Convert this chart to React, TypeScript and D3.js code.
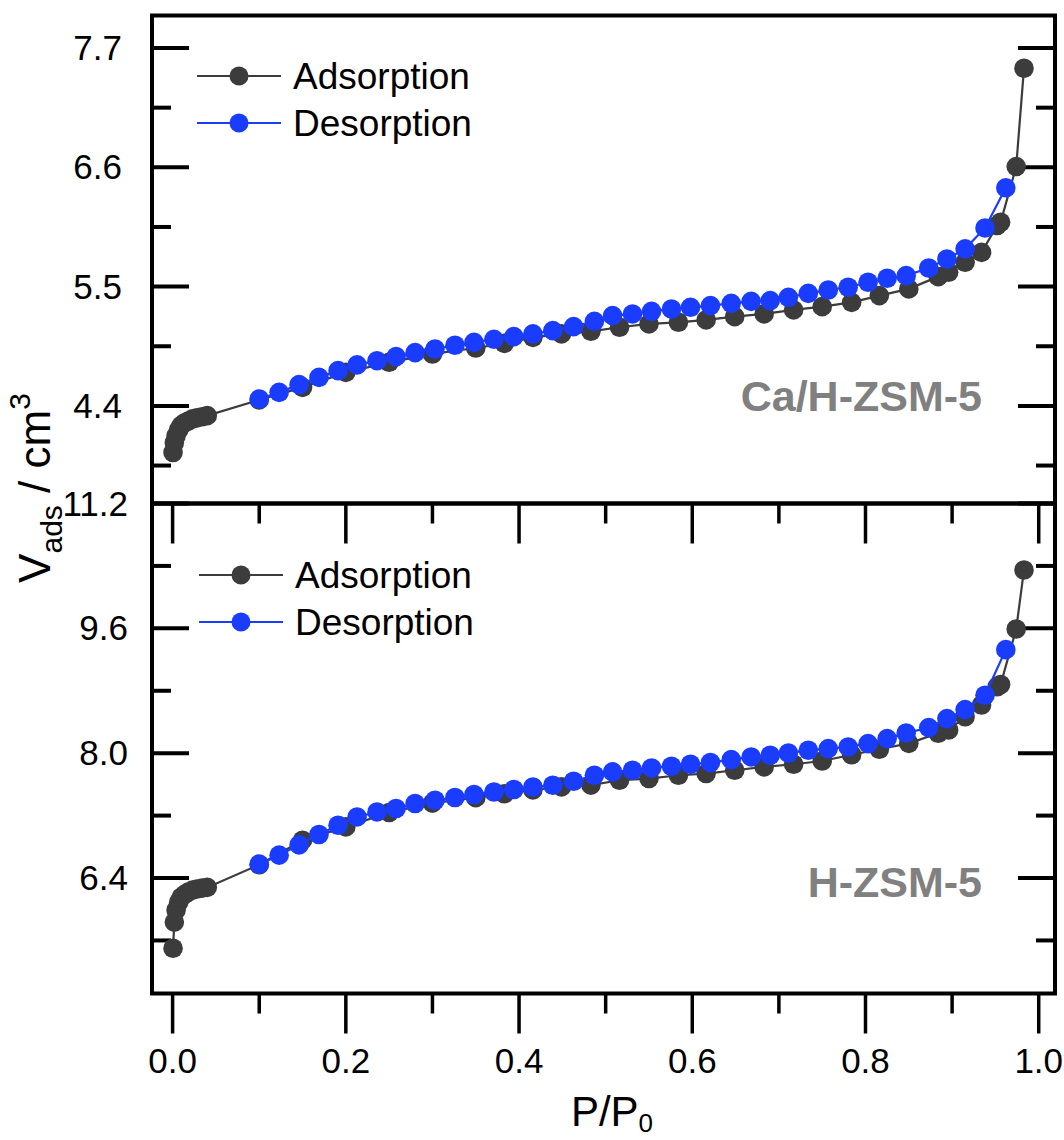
import React from "react";
import * as d3 from "d3";

// ---------- data ----------
const lowP = [0.0005, 0.002, 0.004, 0.007, 0.01, 0.014, 0.018, 0.023, 0.028, 0.034, 0.04];
const adsP = [0.1, 0.15, 0.2, 0.25, 0.3, 0.35, 0.383, 0.416, 0.449, 0.483, 0.516, 0.55, 0.584, 0.616, 0.649, 0.683, 0.717, 0.75, 0.784, 0.816, 0.85, 0.884, 0.896, 0.915, 0.934, 0.952, 0.956, 0.974, 0.983];
const desP = [0.1, 0.123, 0.146, 0.169, 0.191, 0.213, 0.236, 0.258, 0.28, 0.303, 0.326, 0.348, 0.371, 0.394, 0.416, 0.439, 0.463, 0.487, 0.508, 0.531, 0.553, 0.576, 0.598, 0.621, 0.645, 0.668, 0.69, 0.711, 0.734, 0.757, 0.78, 0.803, 0.825, 0.847, 0.873, 0.894, 0.915, 0.938, 0.962];

// Ca/H-ZSM-5 (top panel)
const caAdsLow = [3.97, 4.06, 4.125, 4.18, 4.22, 4.245, 4.26, 4.28, 4.29, 4.3, 4.31];
const caAds = [4.455, 4.571, 4.709, 4.802, 4.879, 4.934, 4.977, 5.032, 5.064, 5.088, 5.125, 5.156, 5.171, 5.193, 5.223, 5.248, 5.285, 5.315, 5.355, 5.417, 5.479, 5.592, 5.632, 5.724, 5.816, 6.063, 6.093, 6.607, 7.514];
const caDes = [4.464, 4.525, 4.596, 4.663, 4.725, 4.778, 4.817, 4.854, 4.891, 4.925, 4.959, 4.986, 5.014, 5.039, 5.064, 5.094, 5.131, 5.18, 5.232, 5.248, 5.272, 5.294, 5.309, 5.325, 5.346, 5.364, 5.371, 5.401, 5.438, 5.469, 5.494, 5.54, 5.577, 5.601, 5.672, 5.755, 5.848, 6.041, 6.411];

// H-ZSM-5 (bottom panel)
const hAdsLow = [5.5, 5.835, 5.99, 6.09, 6.155, 6.19, 6.22, 6.245, 6.26, 6.27, 6.28];
const hAds = [6.57, 6.885, 7.055, 7.24, 7.36, 7.43, 7.48, 7.53, 7.568, 7.59, 7.653, 7.675, 7.717, 7.739, 7.781, 7.824, 7.858, 7.9, 7.98, 8.05, 8.126, 8.255, 8.297, 8.467, 8.617, 8.852, 8.88, 9.591, 10.348];
const hDes = [6.578, 6.693, 6.825, 6.958, 7.077, 7.183, 7.247, 7.291, 7.355, 7.397, 7.432, 7.47, 7.503, 7.534, 7.567, 7.589, 7.64, 7.717, 7.76, 7.781, 7.811, 7.833, 7.858, 7.88, 7.918, 7.952, 7.973, 8.003, 8.037, 8.059, 8.08, 8.123, 8.187, 8.259, 8.328, 8.443, 8.559, 8.742, 9.327];

const xMajor = [0, 0.2, 0.4, 0.6, 0.8, 1.0];
const xMinor = [0.1, 0.3, 0.5, 0.7, 0.9];
const topMajor = [4.4, 5.5, 6.6, 7.7];
const topMinor = [3.85, 4.95, 6.05, 7.15];
const botMajor = [6.4, 8.0, 9.6, 11.2];
const botMinor = [5.6, 7.2, 8.8, 10.4];

const seriesNames = ["Adsorption", "Desorption"];
const sampleNames = ["Ca/H-ZSM-5", "H-ZSM-5"];

// ---------- style ----------
const DARK = "#3c3c3c";
const BLUE = "#1a3cff";
const FONT = "'Liberation Sans', Arial, Helvetica, sans-serif";
const L = 152, R = 1055;
const TOP0 = 15.5, MID = 503.5, BOT = 993.5;
const R_PT = 9.8;

const x = d3.scaleLinear().domain([-0.0238, 1.0188]).range([L, R]);

function Panel({ y0, y1, domain, major, minor, ads, des, name, legendY, labelRight, nameY, showTopTicks }) {
  const y = d3.scaleLinear().domain(domain).range([y1, y0]);
  const line = d3.line<[number, number]>().x(d => x(d[0])).y(d => y(d[1]));
  const adsData: [number, number][] = ads;
  const desData: [number, number][] = des;
  return (
    <g>
      {major.map(v => (
        <g key={"M" + v}>
          <line x1={L} x2={L + 37} y1={y(v)} y2={y(v)} stroke="#000" strokeWidth={4} />
          <line x1={R - 37} x2={R} y1={y(v)} y2={y(v)} stroke="#000" strokeWidth={4} />
          <text x={labelRight} y={y(v) + 12} textAnchor="end" fontSize={35} fontFamily={FONT}>{v.toFixed(1)}</text>
        </g>
      ))}
      {minor.map(v => (
        <g key={"m" + v}>
          <line x1={L} x2={L + 19} y1={y(v)} y2={y(v)} stroke="#000" strokeWidth={4} />
          <line x1={R - 19} x2={R} y1={y(v)} y2={y(v)} stroke="#000" strokeWidth={4} />
        </g>
      ))}
      {showTopTicks && xMajor.map(v => (
        <line key={"tx" + v} x1={x(v)} x2={x(v)} y1={y0} y2={y0 + 40} stroke="#000" strokeWidth={3.5} />
      ))}
      {showTopTicks && xMinor.map(v => (
        <line key={"tm" + v} x1={x(v)} x2={x(v)} y1={y0} y2={y0 + 20} stroke="#000" strokeWidth={3.5} />
      ))}
      <path d={line(adsData) || ""} fill="none" stroke={DARK} strokeWidth={2.2} />
      {adsData.map((d, i) => (
        <circle key={"a" + i} cx={x(d[0])} cy={y(d[1])} r={R_PT} fill={DARK} />
      ))}
      <path d={line(desData) || ""} fill="none" stroke={BLUE} strokeWidth={2.2} />
      {desData.map((d, i) => (
        <circle key={"d" + i} cx={x(d[0])} cy={y(d[1])} r={R_PT} fill={BLUE} />
      ))}
      {[DARK, BLUE].map((c, i) => (
        <g key={"lg" + i}>
          <line x1={legendY.x} x2={legendY.x + 84} y1={legendY.y + i * 47} y2={legendY.y + i * 47} stroke={c} strokeWidth={2.2} />
          <circle cx={legendY.x + 42} cy={legendY.y + i * 47} r={9.5} fill={c} />
          <text x={legendY.x + 96} y={legendY.y + i * 47 + 12.5} fontSize={37} fontFamily={FONT}>{seriesNames[i]}</text>
        </g>
      ))}
      <text x={982} y={nameY} textAnchor="end" fontSize={43} fontWeight="bold" fill="#808080" fontFamily={FONT}>{name}</text>
    </g>
  );
}

export default function App() {
  const caA: [number, number][] = [...lowP.map((p, i) => [p, caAdsLow[i]] as [number, number]), ...adsP.map((p, i) => [p, caAds[i]] as [number, number])];
  const caD: [number, number][] = desP.map((p, i) => [p, caDes[i]] as [number, number]).reverse();
  const hA: [number, number][] = [...lowP.map((p, i) => [p, hAdsLow[i]] as [number, number]), ...adsP.map((p, i) => [p, hAds[i]] as [number, number])];
  const hD: [number, number][] = desP.map((p, i) => [p, hDes[i]] as [number, number]).reverse();
  return (
    <svg width={1064} height={1140} style={{ position: "absolute", left: 0, top: 0, background: "#fff" }}>
      <rect x={0} y={0} width={1064} height={1140} fill="#fff" />
      <Panel y0={TOP0} y1={MID} domain={[3.5, 8.0]} major={topMajor} minor={topMinor} ads={caA} des={caD}
        name={sampleNames[0]} legendY={{ x: 197, y: 76 }} labelRight={122} nameY={411} showTopTicks={false} />
      <Panel y0={MID} y1={BOT} domain={[4.92, 11.2]} major={botMajor} minor={botMinor} ads={hA} des={hD}
        name={sampleNames[1]} legendY={{ x: 199, y: 575 }} labelRight={128} nameY={897} showTopTicks={true} />
      {xMajor.map(v => (
        <g key={"bx" + v}>
          <line x1={x(v)} x2={x(v)} y1={BOT} y2={BOT + 40} stroke="#000" strokeWidth={3.5} />
          <text x={x(v)} y={1073} textAnchor="middle" fontSize={35} fontFamily={FONT}>{v.toFixed(1)}</text>
        </g>
      ))}
      {xMinor.map(v => (
        <line key={"bm" + v} x1={x(v)} x2={x(v)} y1={BOT} y2={BOT + 20} stroke="#000" strokeWidth={3.5} />
      ))}
      <rect x={L} y={TOP0} width={R - L} height={MID - TOP0} fill="none" stroke="#000" strokeWidth={4} />
      <rect x={L} y={MID} width={R - L} height={BOT - MID} fill="none" stroke="#000" strokeWidth={4} />
      <text transform="translate(50,488) rotate(-90)" textAnchor="middle" fontSize={44} fontFamily={FONT}>
        <tspan>V</tspan>
        <tspan fontSize={30} dy={12}>ads</tspan>
        <tspan dy={-12}> / cm</tspan>
        <tspan fontSize={30} dy={-20}>3</tspan>
      </text>
      <text x={612} y={1126} textAnchor="middle" fontSize={42} fontFamily={FONT}>
        <tspan>P/P</tspan>
        <tspan fontSize={26} dy={6}>0</tspan>
      </text>
    </svg>
  );
}
